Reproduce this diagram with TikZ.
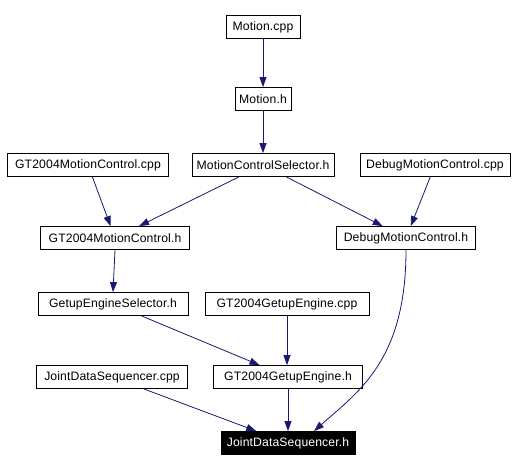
\documentclass[tikz,border=0pt]{standalone}
\usepackage{fontspec}
\setmainfont[LetterSpace=1]{Liberation Sans}
\usetikzlibrary{arrows.meta,calc}
\definecolor{edgeblue}{HTML}{191970}
\begin{document}
\begin{tikzpicture}[x=1pt,y=-1pt,
  box/.style={draw=black,line width=0.8pt,fill=white,minimum height=23pt,inner sep=0pt,
    font=\fontsize{12.2}{14}\selectfont},
  hbox/.style={box,fill=black,text=white},
  edge/.style={draw=edgeblue,line width=0.8pt,-{Triangle[length=10pt,width=7pt]}}]
\useasboundingbox[fill=white] (0,0) rectangle (516,471);
\node[box,minimum width=74pt] (mcpp) at (263,27) {Motion.cpp};
\node[box,minimum width=56pt] (mh) at (263,99) {Motion.h};
\node[box,minimum width=161pt] (gmccpp) at (88,165) {GT2004MotionControl.cpp};
\node[box,minimum width=142pt] (mcsh) at (263,165) {MotionControlSelector.h};
\node[box,minimum width=150pt] (dmccpp) at (435,165) {DebugMotionControl.cpp};
\node[box,minimum width=149pt] (gmch) at (115,238) {GT2004MotionControl.h};
\node[box,minimum width=139pt] (dmch) at (406,238) {DebugMotionControl.h};
\node[box,minimum width=150pt] (gesh) at (113,304) {GetupEngineSelector.h};
\node[box,minimum width=164pt] (ggecpp) at (287,304) {GT2004GetupEngine.cpp};
\node[box,minimum width=151pt] (jdscpp) at (112,377) {JointDataSequencer.cpp};
\node[box,minimum width=149pt] (ggeh) at (288,377) {GT2004GetupEngine.h};
\node[hbox,minimum width=134pt] (jdsh) at (288,443) {JointDataSequencer.h};
\coordinate (jdsin) at ($(jdsh.north)+(26,0)$);
\draw[edge] (mcpp) -- (mh);
\draw[edge] (mh) -- (mcsh);
\draw[edge] (gmccpp) -- (gmch);
\draw[edge] (mcsh) -- (gmch);
\draw[edge] (mcsh) -- (dmch);
\draw[edge] (dmccpp) -- (dmch);
\draw[edge] (gmch.south) -- (gesh.north);
\draw[edge] (gesh) -- (ggeh);
\draw[edge] (ggecpp.south) -- (ggecpp.south |- ggeh.north);
\draw[edge] (jdscpp) -- (jdsh);
\draw[edge] (ggeh) -- (jdsh);
\draw[edge] (dmch.south) .. controls +(0,110) and +(45,-40) .. (jdsin);
\end{tikzpicture}
\end{document}
